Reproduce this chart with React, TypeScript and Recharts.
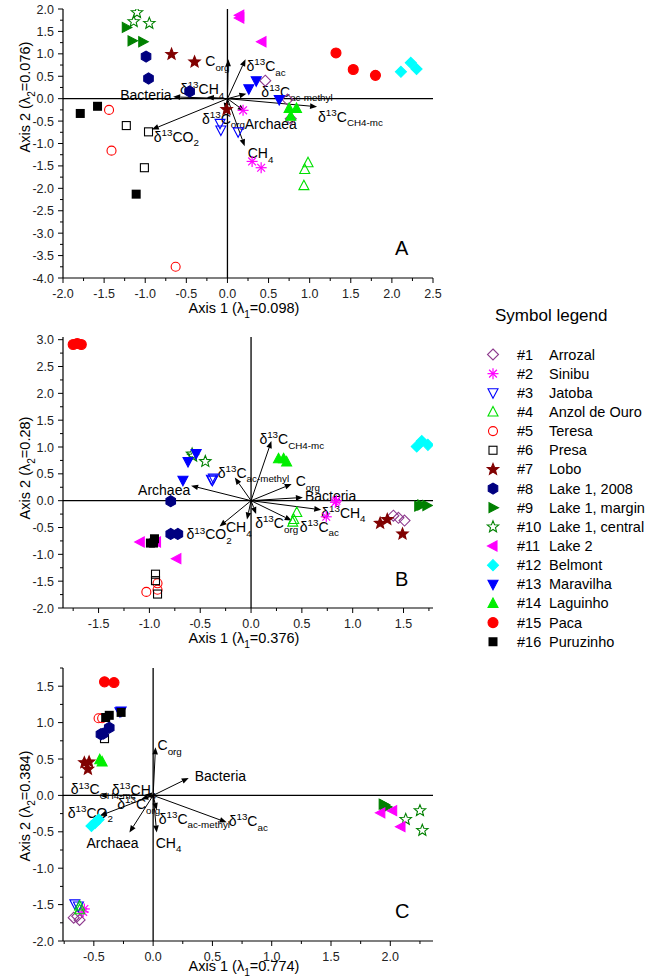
import React from "react";
import { ScatterChart, Scatter, XAxis, YAxis, ReferenceLine } from "recharts";

type Pt = [number, number];
type Arrow = [string, number, number];

const FONT = '"Liberation Sans", Arial, sans-serif';

// sites, in legend order
const SITES = [
  "Arrozal", "Sinibu", "Jatoba", "Anzol de Ouro", "Teresa", "Presa", "Lobo",
  "Lake 1, 2008", "Lake 1, margin", "Lake 1, central", "Lake 2", "Belmont",
  "Maravilha", "Laguinho", "Paca", "Puruzinho",
];
const SHAPES = [
  "diamond", "asterisk", "triDown", "triUp", "circle", "square", "star", "hexagon",
  "triRight", "star", "triLeft", "diamond", "triDown", "triUp", "circle", "square",
];
const FILLED = [
  false, false, false, false, false, false, true, true,
  true, false, true, true, true, true, true, true,
];
const COLORS = [
  "#8e3a8e", "#ff00ff", "#0000ff", "#00e000", "#ff0000", "#000000", "#800000", "#000080",
  "#008000", "#008000", "#ff00ff", "#00ffff", "#0000ff", "#00ee00", "#ff0000", "#000000",
];

// site scores, panel A
const PANEL_A: Pt[][] = [
  [[0.46, 0.4], [0.73, -0.02], [0.77, -0.45]],
  [[0.19, -0.26], [0.3, -1.4], [0.41, -1.54]],
  [[-0.09, -0.55], [-0.08, -0.7], [0.13, -0.74]],
  [[0.98, -1.43], [0.94, -1.58], [0.93, -1.94]],
  [[-1.44, -0.25], [-1.41, -1.16], [-0.63, -3.75]],
  [[-1.23, -0.6], [-0.96, -0.74], [-1.01, -1.54]],
  [[-0.68, 0.99], [-0.4, 0.82], [-0.01, -0.24]],
  [[-0.99, 0.94], [-0.96, 0.45], [-0.46, 0.16]],
  [[-1.23, 1.59], [-1.16, 1.29], [-1.03, 1.27]],
  [[-1.1, 1.92], [-1.14, 1.72], [-0.95, 1.68]],
  [[0.15, 1.86], [0.15, 1.8], [0.42, 1.27]],
  [[2.11, 0.6], [2.23, 0.8], [2.3, 0.66]],
  [[0.35, 0.4], [0.26, 0.22], [0.63, -0.02]],
  [[0.75, -0.22], [0.84, -0.22], [0.77, -0.39]],
  [[1.32, 1.02], [1.53, 0.65], [1.8, 0.52]],
  [[-1.79, -0.33], [-1.58, -0.17], [-1.11, -2.13]],
];

const PANEL_B: Pt[][] = [
  [[1.4, -0.28], [1.45, -0.32], [1.51, -0.37]],
  [[0.84, 0.0], [0.83, -0.03], [0.74, -0.3]],
  [[-0.39, 0.4], [-0.37, 0.42], [-0.38, 0.38]],
  [[0.45, -0.22], [0.42, -0.35], [0.41, -0.4]],
  [[-1.03, -1.7], [-0.92, -1.54], [-0.92, -1.66]],
  [[-0.94, -1.37], [-0.94, -1.49], [-0.92, -1.74]],
  [[1.27, -0.42], [1.34, -0.35], [1.49, -0.62]],
  [[-0.79, -0.01], [-0.79, -0.62], [-0.72, -0.62]],
  [[1.65, -0.1], [1.68, -0.08], [1.73, -0.09]],
  [[-0.57, 0.83], [-0.45, 0.73], [-0.58, 0.87]],
  [[-1.09, -0.77], [-0.93, -0.77], [-0.73, -1.08]],
  [[1.63, 1.01], [1.68, 1.11], [1.74, 1.04]],
  [[-0.62, 0.73], [-0.54, 0.88], [-0.67, 0.38]],
  [[0.27, 0.78], [0.32, 0.78], [0.35, 0.72]],
  [[-1.75, 2.91], [-1.71, 2.93], [-1.67, 2.91]],
  [[-0.99, -0.79], [-0.95, -0.71], [-0.96, -0.79]],
];

const PANEL_C: Pt[][] = [
  [[-0.67, -1.68], [-0.62, -1.71], [-0.64, -1.66]],
  [[-0.58, -1.56], [-0.59, -1.6]],
  [[-0.66, -1.49], [-0.63, -1.52]],
  [[-0.62, -1.52], [-0.62, -1.57]],
  [[-0.46, 1.06], [-0.43, 1.06]],
  [[-0.41, 0.78]],
  [[-0.58, 0.45], [-0.54, 0.46], [-0.55, 0.36]],
  [[-0.44, 0.84], [-0.42, 0.85], [-0.37, 0.93]],
  [[1.94, -0.12], [1.97, -0.16], [1.95, -0.13]],
  [[2.25, -0.21], [2.13, -0.33], [2.27, -0.48]],
  [[1.92, -0.24], [2.02, -0.21], [2.09, -0.43]],
  [[-0.52, -0.42], [-0.49, -0.38], [-0.46, -0.33]],
  [[-0.27, 1.16], [-0.28, 1.15]],
  [[-0.45, 0.49], [-0.43, 0.46]],
  [[-0.41, 1.56], [-0.33, 1.55]],
  [[-0.4, 1.07], [-0.37, 1.1], [-0.27, 1.14]],
];

// variable vectors: {..} superscript, [..] subscript
const ARROWS_A: Arrow[] = [
  ["C[org]", 0.01, 0.88],
  ["δ{13}C[ac]", 0.22, 0.88],
  ["δ{13}C[ac-methyl]", 0.23, 0.11],
  ["δ{13}C[CH4-mc]", 1.09, -0.18],
  ["Archaea", 0.21, -0.28],
  ["CH[4]", 0.21, -1.06],
  ["δ{13}C[org]", -0.03, -0.25],
  ["δ{13}CH[4]", -0.25, 0.03],
  ["Bacteria", -0.66, 0.04],
  ["δ{13}CO[2]", -0.92, -0.69],
];
const ARROWS_B: Arrow[] = [
  ["δ{13}C[CH4-mc]", 0.2, 1.11],
  ["δ{13}C[ac-methyl]", -0.16, 0.43],
  ["C[org]", 0.4, 0.31],
  ["Bacteria", 0.51, 0.06],
  ["δ{13}CH[4]", 0.69, -0.17],
  ["δ{13}C[ac]", 0.4, -0.37],
  ["δ{13}C[org]", 0.05, -0.25],
  ["CH[4]", -0.04, -0.35],
  ["δ{13}CO[2]", -0.31, -0.48],
  ["Archaea", -0.59, 0.28],
];
const ARROWS_C: Arrow[] = [
  ["C[org]", 0.02, 0.66],
  ["Bacteria", 0.3, 0.24],
  ["δ{13}C[CH4-mc]", -0.45, 0.0],
  ["δ{13}CH[4]", -0.07, 0.01],
  ["δ{13}CO[2]", -0.45, -0.28],
  ["δ{13}C[org]", -0.1, -0.05],
  ["Archaea", -0.2, -0.51],
  ["CH[4]", 0.03, -0.51],
  ["δ{13}C[ac-methyl]", 0.03, -0.2],
  ["δ{13}C[ac]", 0.62, -0.37],
];

// label placement (px from arrow tip)
const LABEL_OFF_A: Pt[] = [[-23, 7], [1, 12], [15, 3], [1, 15], [0, 18], [3, 12], [-23, 14], [-27, -3], [-53, 3], [2, 12]];
const LABEL_OFF_B: Pt[] = [[-12, 3], [-17, 0], [4, 2], [2, 4], [0, 8], [8, 11], [-1, 14], [-21, 13], [-33, 13], [-53, 9]];
const LABEL_OFF_C: Pt[] = [[2, 3], [6, 3], [-29, -1], [-33, 0], [-32, 2], [-24, 10], [-43, 15], [-1, 15], [2, 14], [2, 4]];

const TICKS_A_X = [-2, -1.75, -1.5, -1.25, -1, -0.75, -0.5, -0.25, 0, 0.25, 0.5, 0.75, 1, 1.25, 1.5, 1.75, 2, 2.25, 2.5];
const TICKS_A_Y = [-4, -3.75, -3.5, -3.25, -3, -2.75, -2.5, -2.25, -2, -1.75, -1.5, -1.25, -1, -0.75, -0.5, -0.25, 0, 0.25, 0.5, 0.75, 1, 1.25, 1.5, 1.75, 2];
const TICKS_B_X = [-1.75, -1.5, -1.25, -1, -0.75, -0.5, -0.25, 0, 0.25, 0.5, 0.75, 1, 1.25, 1.5, 1.75];
const TICKS_B_Y = [-2, -1.75, -1.5, -1.25, -1, -0.75, -0.5, -0.25, 0, 0.25, 0.5, 0.75, 1, 1.25, 1.5, 1.75, 2, 2.25, 2.5, 2.75, 3];
const TICKS_C_X = [-0.75, -0.5, -0.25, 0, 0.25, 0.5, 0.75, 1, 1.25, 1.5, 1.75, 2, 2.25];
const TICKS_C_Y = [-2, -1.75, -1.5, -1.25, -1, -0.75, -0.5, -0.25, 0, 0.25, 0.5, 0.75, 1, 1.25, 1.5, 1.75];

function Rich({ x, y, text, size = 14, anchor = "start" }: any) {
  const re = /\{([^}]*)\}|\[([^\]]*)\]|([^{[]+)/g;
  const parts: { t: string; k: number }[] = [];
  let m: RegExpExecArray | null;
  while ((m = re.exec(text))) {
    if (m[1] !== undefined) parts.push({ t: m[1], k: -1 });
    else if (m[2] !== undefined) parts.push({ t: m[2], k: 1 });
    else parts.push({ t: m[3], k: 0 });
  }
  let cur = 0;
  return (
    <text x={x} y={y} fontSize={size} fontFamily={FONT} textAnchor={anchor} fill="#000">
      {parts.map((p, i) => {
        const target = p.k === -1 ? -size * 0.42 : p.k === 1 ? size * 0.32 : 0;
        const dy = target - cur;
        cur = target;
        return (
          <tspan key={i} dy={dy} fontSize={p.k === 0 ? size : size * 0.7}>
            {p.t}
          </tspan>
        );
      })}
    </text>
  );
}

const poly = (pts: number[][], cx: number, cy: number) =>
  pts.map(([a, b]) => `${cx + a},${cy + b}`).join(" ");

function Marker({ shape, filled, color, cx, cy }: any) {
  const fill = filled ? color : "none";
  const sw = 1.1;
  const s = 5;
  switch (shape) {
    case "diamond":
      return <polygon points={poly([[0, -5.5], [5.5, 0], [0, 5.5], [-5.5, 0]], cx, cy)} fill={fill} stroke={color} strokeWidth={sw} />;
    case "triUp":
      return <polygon points={poly([[0, -s - 0.5], [s, s * 0.8], [-s, s * 0.8]], cx, cy)} fill={fill} stroke={color} strokeWidth={sw} />;
    case "triDown":
      return <polygon points={poly([[0, s + 0.5], [s, -s * 0.8], [-s, -s * 0.8]], cx, cy)} fill={fill} stroke={color} strokeWidth={sw} />;
    case "triRight":
      return <polygon points={poly([[s + 0.5, 0], [-s * 0.8, -s], [-s * 0.8, s]], cx, cy)} fill={fill} stroke={color} strokeWidth={sw} />;
    case "triLeft":
      return <polygon points={poly([[-s - 0.5, 0], [s * 0.8, -s], [s * 0.8, s]], cx, cy)} fill={fill} stroke={color} strokeWidth={sw} />;
    case "circle":
      return <circle cx={cx} cy={cy} r={filled ? 5 : 4.5} fill={fill} stroke={color} strokeWidth={sw} />;
    case "square":
      return filled ? (
        <rect x={cx - 4.5} y={cy - 4.5} width={9} height={9} fill={color} />
      ) : (
        <rect x={cx - 4} y={cy - 4} width={8} height={8} fill="none" stroke={color} strokeWidth={sw} />
      );
    case "hexagon": {
      const pts = [0, 1, 2, 3, 4, 5].map((i) => {
        const a = Math.PI / 2 + (i * Math.PI) / 3;
        return [5.5 * Math.cos(a), 5.5 * Math.sin(a)];
      });
      return <polygon points={poly(pts, cx, cy)} fill={fill} stroke={color} strokeWidth={sw} />;
    }
    case "star": {
      const pts: number[][] = [];
      for (let i = 0; i < 10; i++) {
        const r = i % 2 === 0 ? 6 : 2.6;
        const a = -Math.PI / 2 + (i * Math.PI) / 5;
        pts.push([r * Math.cos(a), r * Math.sin(a)]);
      }
      return <polygon points={poly(pts, cx, cy)} fill={fill} stroke={color} strokeWidth={sw} />;
    }
    case "asterisk": {
      const r = 5.5;
      const d = r * 0.7071;
      return (
        <g stroke={color} strokeWidth={1.2}>
          <line x1={cx} y1={cy - r} x2={cx} y2={cy + r} />
          <line x1={cx - r} y1={cy} x2={cx + r} y2={cy} />
          <line x1={cx - d} y1={cy - d} x2={cx + d} y2={cy + d} />
          <line x1={cx - d} y1={cy + d} x2={cx + d} y2={cy - d} />
        </g>
      );
    }
    default:
      return null;
  }
}

const isMajor = (v: number) => Math.abs(v * 2 - Math.round(v * 2)) < 1e-6;
const fmt = (v: number) => (Math.abs(v) < 1e-9 ? 0 : v).toFixed(1);

const tickBottom = (p: any) => {
  const v = p.payload.value;
  const major = isMajor(v);
  return (
    <g>
      <line x1={p.x} x2={p.x} y1={p.y} y2={p.y + (major ? 5 : 3)} stroke="#000" />
      {major ? (
        <text x={p.x} y={p.y + 19.5} textAnchor="middle" fontSize={12.5} fontFamily={FONT} fill="#222">
          {fmt(v)}
        </text>
      ) : null}
    </g>
  );
};
const tickTop = (p: any) => {
  const major = isMajor(p.payload.value);
  return <line x1={p.x} x2={p.x} y1={p.y} y2={p.y + (major ? 5 : 3)} stroke="#000" />;
};
const tickLeft = (p: any) => {
  const v = p.payload.value;
  const major = isMajor(v);
  return (
    <g>
      <line x1={p.x - (major ? 5 : 3)} x2={p.x} y1={p.y} y2={p.y} stroke="#000" />
      {major ? (
        <text x={p.x - 9} y={p.y + 4.5} textAnchor="end" fontSize={12.5} fontFamily={FONT} fill="#222">
          {fmt(v)}
        </text>
      ) : null}
    </g>
  );
};
const tickRight = (p: any) => {
  const major = isMajor(p.payload.value);
  return <line x1={p.x - (major ? 5 : 3)} x2={p.x} y1={p.y} y2={p.y} stroke="#000" />;
};

const arrowShape = (label: string, off: Pt) => (p: any) => {
  const { x1, y1, x2, y2 } = p;
  const dx = x2 - x1;
  const dy = y2 - y1;
  const L = Math.hypot(dx, dy) || 1;
  const ux = dx / L;
  const uy = dy / L;
  const hl = 7;
  const hw = 2.8;
  const bx = x2 - ux * hl;
  const by = y2 - uy * hl;
  return (
    <g>
      <line x1={x1} y1={y1} x2={bx} y2={by} stroke="#000" strokeWidth={1} />
      <polygon
        points={`${x2},${y2} ${bx - uy * hw},${by + ux * hw} ${bx + uy * hw},${by - ux * hw}`}
        fill="#000"
      />
      <Rich x={x2 + off[0]} y={y2 + off[1]} text={label} size={14} />
    </g>
  );
};

interface PanelProps {
  top: number;
  height: number;
  marginTop: number;
  xAxisHeight: number;
  xDomain: [number, number];
  yDomain: [number, number];
  xTicks: number[];
  yTicks: number[];
  points: Pt[][];
  arrows: Arrow[];
  offsets: Pt[];
  xTitle: string;
  xTitleDy: number;
  yTitle: string;
  yTitleCy: number;
  letter: string;
  letterTop: number;
}

function Panel(props: PanelProps) {
  const {
    top, height, marginTop, xAxisHeight, xDomain, yDomain, xTicks, yTicks,
    points, arrows, offsets, xTitle, xTitleDy, yTitle, yTitleCy, letter, letterTop,
  } = props;
  const plotBottom = height - xAxisHeight;
  const axisLine = { stroke: "#000", strokeWidth: 1.2 };
  return (
    <div style={{ position: "absolute", left: 0, top, width: 445, height }}>
      <ScatterChart width={445} height={height} margin={{ top: marginTop, right: 12, bottom: 0, left: 0 }}>
        <XAxis
          type="number"
          dataKey="x"
          domain={xDomain}
          ticks={xTicks}
          interval={0}
          tickSize={0}
          tickMargin={0}
          height={xAxisHeight}
          allowDataOverflow
          axisLine={axisLine}
          tickLine={false}
          tick={tickBottom}
          label={(lp: any) => {
            const vb = lp && lp.viewBox ? lp.viewBox : { x: 63, y: plotBottom, width: 370 };
            return <Rich x={vb.x + vb.width / 2 - 4} y={vb.y + xTitleDy} text={xTitle} anchor="middle" size={14.5} />;
          }}
        />
        <XAxis
          xAxisId="top"
          orientation="top"
          type="number"
          domain={xDomain}
          ticks={xTicks}
          interval={0}
          tickSize={0}
          tickMargin={0}
          height={0}
          allowDataOverflow
          axisLine={axisLine}
          tickLine={false}
          tick={tickTop}
        />
        <YAxis
          type="number"
          dataKey="y"
          domain={yDomain}
          ticks={yTicks}
          interval={0}
          tickSize={0}
          tickMargin={0}
          width={63}
          allowDataOverflow
          axisLine={axisLine}
          tickLine={false}
          tick={tickLeft}
          label={() => (
            <g transform={`rotate(-90, 30, ${yTitleCy})`}>
              <Rich x={30} y={yTitleCy} text={yTitle} anchor="middle" size={14.5} />
            </g>
          )}
        />
        <YAxis
          yAxisId="right"
          orientation="right"
          type="number"
          domain={yDomain}
          ticks={yTicks}
          interval={0}
          tickSize={0}
          tickMargin={0}
          width={0}
          allowDataOverflow
          axisLine={axisLine}
          tickLine={false}
          tick={tickRight}
        />
        <ReferenceLine x={0} stroke="#000" strokeWidth={1.3} />
        <ReferenceLine y={0} stroke="#000" strokeWidth={1.3} />
        {points.map((pts, i) => (
          <Scatter
            key={SITES[i]}
            name={SITES[i]}
            data={pts.map(([x, y]) => ({ x, y }))}
            isAnimationActive={false}
            shape={(sp: any) => (
              <Marker shape={SHAPES[i]} filled={FILLED[i]} color={COLORS[i]} cx={sp.cx} cy={sp.cy} />
            )}
          />
        ))}
        {arrows.map(([name, x, y], i) => (
          <ReferenceLine
            key={name + i}
            segment={[{ x: 0, y: 0 }, { x, y }]}
            shape={arrowShape(name, offsets[i])}
          />
        ))}
      </ScatterChart>
      <div
        style={{
          position: "absolute",
          left: 395,
          top: letterTop,
          fontFamily: FONT,
          fontSize: 20,
          color: "#000",
        }}
      >
        {letter}
      </div>
    </div>
  );
}

function SymbolLegend() {
  return (
    <svg width={185} height={360} style={{ position: "absolute", left: 480, top: 295 }}>
      <text x={15} y={26} fontSize={17} fontFamily={FONT} fill="#000">
        Symbol legend
      </text>
      {SITES.map((name, i) => {
        const cy = 59.5 + i * 19.15;
        return (
          <g key={name}>
            <Marker shape={SHAPES[i]} filled={FILLED[i]} color={COLORS[i]} cx={13} cy={cy} />
            <text x={37} y={cy + 5} fontSize={14.5} fontFamily={FONT} fill="#000">
              #{i + 1}
            </text>
            <text x={69} y={cy + 5} fontSize={14.5} fontFamily={FONT} fill="#000">
              {name}
            </text>
          </g>
        );
      })}
    </svg>
  );
}

export default function App() {
  return (
    <div style={{ position: "absolute", left: 0, top: 0, width: 665, height: 978, background: "#fff" }}>
      <Panel
        top={0}
        height={320}
        marginTop={9}
        xAxisHeight={42}
        xDomain={[-2, 2.5]}
        yDomain={[-4, 2]}
        xTicks={TICKS_A_X}
        yTicks={TICKS_A_Y}
        points={PANEL_A}
        arrows={ARROWS_A}
        offsets={LABEL_OFF_A}
        xTitle="Axis 1 (λ[1]=0.098)"
        xTitleDy={35}
        yTitle="Axis 2 (λ[2]=0.076)"
        yTitleCy={97}
        letter="A"
        letterTop={237}
      />
      <Panel
        top={320}
        height={330}
        marginTop={17}
        xAxisHeight={42}
        xDomain={[-1.85, 1.79]}
        yDomain={[-2, 3.05]}
        xTicks={TICKS_B_X}
        yTicks={TICKS_B_Y}
        points={PANEL_B}
        arrows={ARROWS_B}
        offsets={LABEL_OFF_B}
        xTitle="Axis 1 (λ[1]=0.376)"
        xTitleDy={35}
        yTitle="Axis 2 (λ[2]=0.28)"
        yTitleCy={148}
        letter="B"
        letterTop={248}
      />
      <Panel
        top={650}
        height={328}
        marginTop={18}
        xAxisHeight={37}
        xDomain={[-0.76, 2.36]}
        yDomain={[-2, 1.75]}
        xTicks={TICKS_C_X}
        yTicks={TICKS_C_Y}
        points={PANEL_C}
        arrows={ARROWS_C}
        offsets={LABEL_OFF_C}
        xTitle="Axis 1 (λ[1]=0.774)"
        xTitleDy={30}
        yTitle="Axis 2 (λ[2]=0.384)"
        yTitleCy={156}
        letter="C"
        letterTop={250}
      />
      <SymbolLegend />
    </div>
  );
}
